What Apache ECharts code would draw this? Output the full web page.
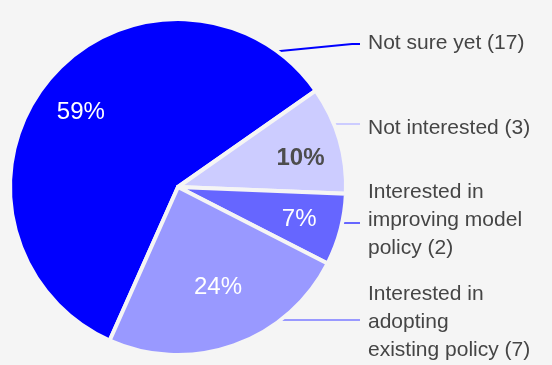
<!DOCTYPE html>
<html>
<head>
<meta charset="utf-8">
<script src="https://cdn.jsdelivr.net/npm/echarts@6/dist/echarts.min.js"></script>
<style>
  html, body { margin: 0; padding: 0; background: #f5f5f5; }
  #chart { width: 552px; height: 365px; }
</style>
</head>
<body>
<div id="chart"></div>
<script>
// Survey responses about the policy
const categories = [
  'Not sure yet',
  'Not interested',
  'Interested in\nimproving model\npolicy',
  'Interested in\nadopting\nexisting policy'
];
const counts = [17, 3, 2, 7];

// Styling per slice
const sliceColors = ['#0000ff', '#ccccff', '#6666ff', '#9999ff'];
const pctColors = ['#ffffff', '#4d4d4d', '#ffffff', '#ffffff'];
const pctWeights = ['normal', 'bold', 'normal', 'normal'];
const pctOffsets = [[-30, -19], [39, -4], [37, 10], [11, 18]];

// Pie geometry and right-hand label column
const CX = 178, CY = 187, R = 168;
const START_ANGLE = 246;
const LABEL_X = 368, LINE_END_X = 360;
const labelY = [43, 128, 220, 322];
const lineY = [44, 124, 223, 320];
const FONT = '"Liberation Sans", Arial, Helvetica, sans-serif';

const chart = echarts.init(document.getElementById('chart'));

const sliceData = categories.map((name, i) => ({
  name: name,
  value: counts[i],
  itemStyle: { color: sliceColors[i] },
  label: {
    color: pctColors[i],
    fontWeight: pctWeights[i],
    offset: pctOffsets[i]
  }
}));

const calloutData = categories.map((name, i) => ({
  name: name,
  value: counts[i],
  labelLine: { lineStyle: { color: sliceColors[i] } }
}));

// Leader lines start on the visible rim of the pie
function edgeStart(i) {
  const r = R - 3;
  if (i === 0) {
    const a = 55 * Math.PI / 180;
    return [CX + r * Math.cos(a), CY - r * Math.sin(a)];
  }
  const dy = lineY[i] - CY;
  return [CX + Math.sqrt(r * r - dy * dy), lineY[i]];
}

chart.setOption({
  backgroundColor: '#f5f5f5',
  animation: false,
  series: [
    {
      type: 'pie',
      center: [CX, CY],
      radius: [0, R],
      startAngle: START_ANGLE,
      clockwise: true,
      silent: true,
      itemStyle: { borderColor: '#f5f5f5', borderWidth: 4 },
      label: {
        show: true,
        position: 'inside',
        fontFamily: FONT,
        fontSize: 24,
        formatter: p => Math.round(p.percent) + '%'
      },
      labelLine: { show: false },
      data: sliceData
    },
    {
      type: 'pie',
      center: [CX, CY],
      radius: [0, R],
      startAngle: START_ANGLE,
      clockwise: true,
      silent: true,
      avoidLabelOverlap: false,
      itemStyle: { color: 'rgba(0,0,0,0)', borderWidth: 0 },
      label: {
        show: true,
        position: 'outside',
        overflow: 'none',
        fontFamily: FONT,
        fontSize: 21,
        lineHeight: 28,
        color: '#454545',
        formatter: p => p.name + ' (' + p.value + ')'
      },
      labelLine: { show: true, length: 10, length2: 10, lineStyle: { width: 2 } },
      labelLayout: function (p) {
        const i = p.dataIndex;
        const s = edgeStart(i);
        const pts = i === 0
          ? [s, [LINE_END_X - 8, lineY[i]], [LINE_END_X, lineY[i]]]
          : [s, [(s[0] + LINE_END_X) / 2, lineY[i]], [LINE_END_X, lineY[i]]];
        return {
          x: LABEL_X,
          y: labelY[i],
          align: 'left',
          verticalAlign: 'middle',
          hideOverlap: false,
          labelLinePoints: pts
        };
      },
      data: calloutData
    }
  ]
});
</script>
</body>
</html>
